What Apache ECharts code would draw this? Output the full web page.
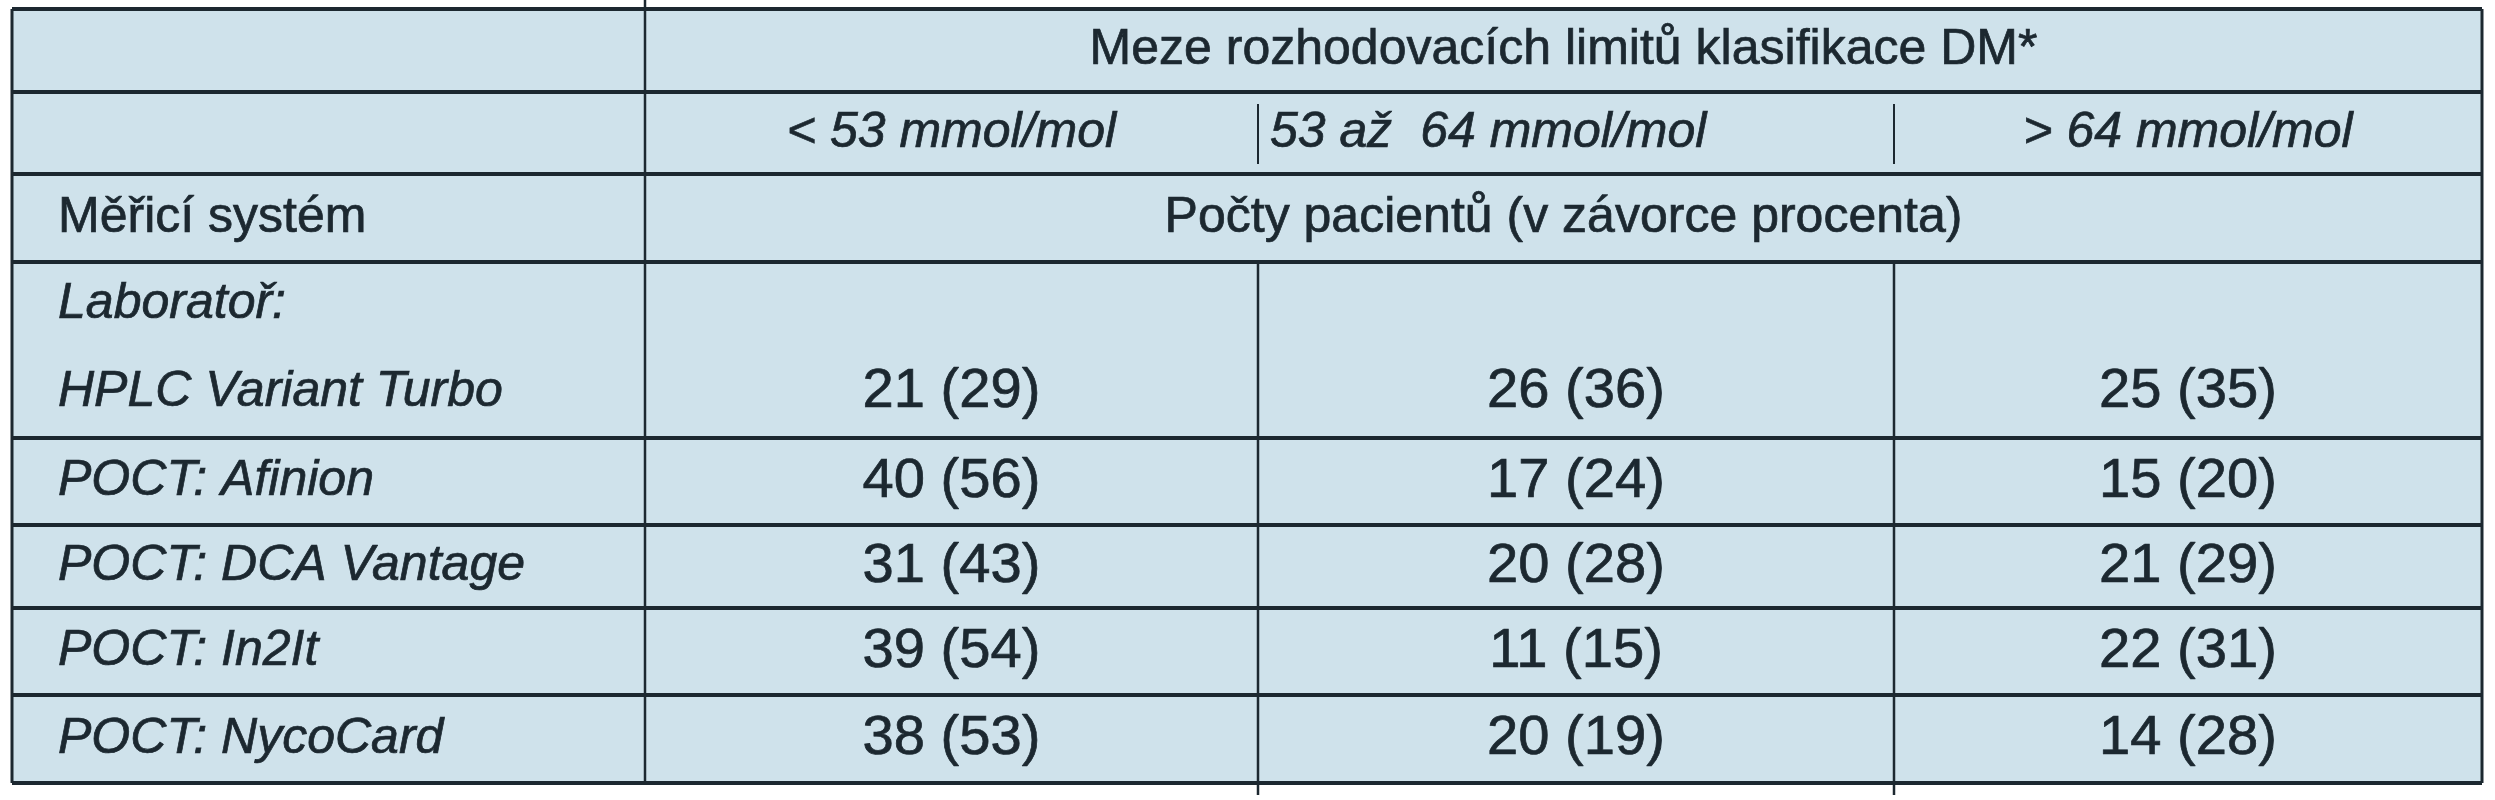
<!DOCTYPE html>
<html><head><meta charset="utf-8">
<script src="https://cdn.jsdelivr.net/npm/echarts@6/dist/echarts.min.js"></script>
<style>html,body{margin:0;background:#fff}#c{width:2495px;height:800px}</style>
</head><body><div id="c"></div>
<script>
const title = 'Meze rozhodovacích limitů klasifikace DM*';
const ranges = ['< 53 mmol/mol', '53 až  64 mmol/mol', '> 64 mmol/mol'];
const rowHeader = 'Měřicí systém';
const subTitle = 'Počty pacientů (v závorce procenta)';
const systems = ['HPLC Variant Turbo', 'POCT: Afinion', 'POCT: DCA Vantage', 'POCT: In2It', 'POCT: NycoCard'];
const counts = [[21,26,25],[40,17,15],[31,20,21],[39,11,22],[38,20,14]];
const percents = [[29,36,35],[56,24,20],[43,28,29],[54,15,31],[53,19,28]];

const X = [12, 645, 1258, 1894, 2482];
const Y = [9, 92, 174, 262, 438, 525, 608, 695, 783];
const ink = '#1c2830', fill = '#cfe2eb';
const SX = 1.22, SY = 1.2;
const g = [];
g.push({type:'rect', shape:{x:X[0],y:Y[0],width:X[4]-X[0],height:Y[8]-Y[0]}, style:{fill:fill}});
function line(x1,y1,x2,y2,w){g.push({type:'line',shape:{x1,y1,x2,y2},style:{stroke:ink,lineWidth:w}});}
function txt(s,x,y,align,size,italic){
  g.push({type:'text',x:x,y:y,scaleX:SX,scaleY:SY,style:{text:s,fill:ink,stroke:ink,lineWidth:0.6,font:(italic?'italic ':'')+size+'px "Liberation Sans", Arial, sans-serif',textAlign:align,textVerticalAlign:'middle'}});
}
Y.forEach(y=>line(X[0],y,X[4],y,4));
line(X[0],Y[0],X[0],Y[8],3); line(X[4],Y[0],X[4],Y[8],3);
line(X[1],0,X[1],Y[8],2.5);
line(X[2],Y[1]+12,X[2],Y[2]-10,2); line(X[3],Y[1]+12,X[3],Y[2]-10,2);
line(X[2],Y[3],X[2],Y[8]+12,2.5); line(X[3],Y[3],X[3],Y[8]+12,2.5);
const cx = [ (X[1]+X[2])/2, (X[2]+X[3])/2, (X[3]+X[4])/2 ];
txt(title,(X[1]+X[4])/2,(Y[0]+Y[1])/2,'center',41,false);
txt(ranges[0],cx[0],(Y[1]+Y[2])/2,'center',41,true);
txt(ranges[1],X[2]+12,(Y[1]+Y[2])/2,'left',41,true);
txt(ranges[2],cx[2],(Y[1]+Y[2])/2,'center',41,true);
txt(rowHeader,58,(Y[2]+Y[3])/2,'left',41,false);
txt(subTitle,(X[1]+X[4])/2,(Y[2]+Y[3])/2,'center',41,false);
txt('Laboratoř:',58,304,'left',41,true);
systems.forEach((s,i)=>{
  const yc = i===0 ? 392 : (Y[i+3]+Y[i+4])/2;
  txt(s,58,yc,'left',41,true);
  for(let j=0;j<3;j++) txt(counts[i][j]+' ('+percents[i][j]+')',cx[j],yc,'center',46,false);
});
const ch = echarts.init(document.getElementById('c'));
ch.setOption({animation:false, graphic:{elements:g}});
</script></body></html>
